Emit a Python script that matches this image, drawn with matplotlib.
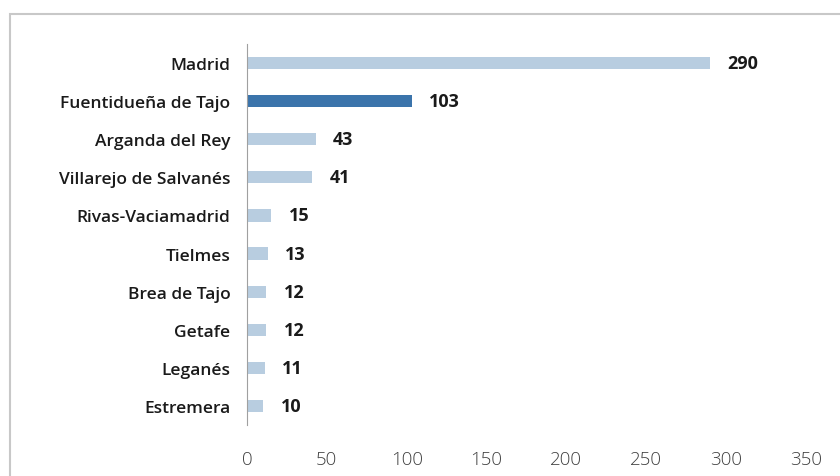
import matplotlib
matplotlib.use("Agg")
import matplotlib.pyplot as plt
from matplotlib.patches import Rectangle

municipios = ["Madrid", "Fuentidueña de Tajo", "Arganda del Rey", "Villarejo de Salvanés",
              "Rivas-Vaciamadrid", "Tielmes", "Brea de Tajo", "Getafe", "Leganés", "Estremera"]
valores = [290, 103, 43, 41, 15, 13, 12, 12, 11, 10]
x_ticks = [0, 50, 100, 150, 200, 250, 300, 350]

plt.rcParams["font.family"] = ["Open Sans", "DejaVu Sans"]

fig = plt.figure(figsize=(8.4, 4.77), dpi=100)
# marco gris del gráfico (recortado a la derecha y abajo)
fig.patches.append(Rectangle((10 / 840, -0.1), 1.2, 1 - 15 / 477 + 0.1,
                             transform=fig.transFigure, fill=False,
                             edgecolor="#c8c8c8", linewidth=1.5))

ax = fig.add_axes([247 / 840, 1 - 426 / 477, (806 - 247) / 840, (426 - 45) / 477])

colors = ["#b8cde0"] * len(valores)
colors[1] = "#3b74ab"
ypos = list(range(len(valores)))
ax.barh(ypos, valores, height=0.32, color=colors)

for y, v in zip(ypos, valores):
    ax.text(v + 11, y, str(v), va="center", ha="left", fontsize=13,
            fontweight="bold", color="#1a1a1a")

ax.set_yticks(ypos)
ax.set_yticklabels(municipios, fontsize=12.5, fontweight="semibold", color="#1a1a1a")
ax.set_ylim(len(valores) - 0.5, -0.5)
ax.set_xlim(0, 350)
ax.set_xticks(x_ticks)
ax.set_xticklabels([str(t) for t in x_ticks], fontsize=13.5, fontweight="light", color="#404040")
ax.tick_params(axis="both", length=0)
ax.tick_params(axis="y", pad=12)
ax.tick_params(axis="x", pad=18)

for s in ["top", "right", "bottom"]:
    ax.spines[s].set_visible(False)
ax.spines["left"].set_color("#a0a0a0")

fig.savefig("out.png", dpi=100)
